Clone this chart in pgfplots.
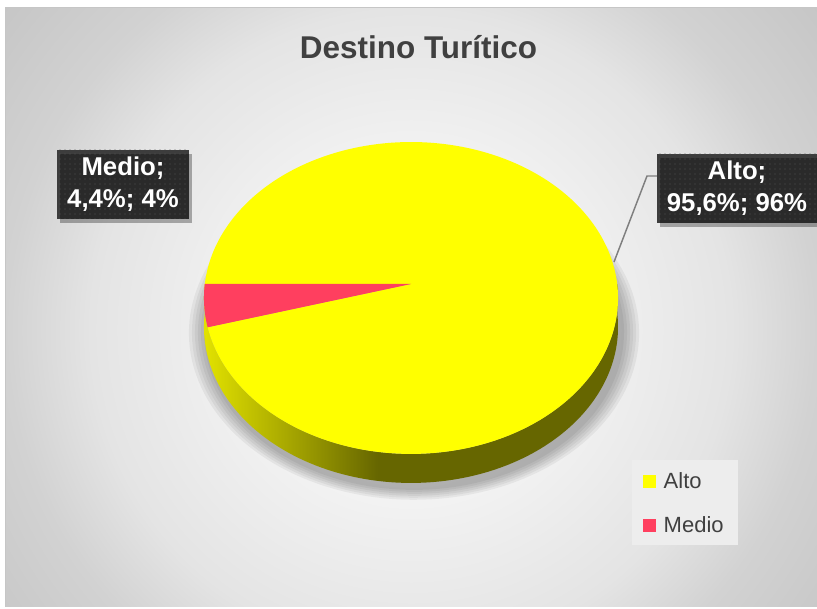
\documentclass[border=0pt]{standalone}
\usepackage{fontspec}
\setmainfont{Liberation Sans}
\usepackage{pgfplots}
\pgfplotsset{compat=1.18}
\usepackage{pgfplotstable}
\usetikzlibrary{patterns.meta,shadows}

\definecolor{txt}{HTML}{404040}
\definecolor{pieY}{HTML}{FFFF00}
\definecolor{pieR}{HTML}{FF3F5F}
\definecolor{lblbg}{HTML}{3D3D3D}
\definecolor{lbldot}{HTML}{545454}
\definecolor{legbg}{HTML}{EDEDED}
\definecolor{lead}{HTML}{7F7F7F}
\definecolor{s0}{HTML}{E2E200}
\definecolor{s1}{HTML}{A8A800}
\definecolor{s2}{HTML}{666600}
\definecolor{b1}{HTML}{F7F7F7}
\definecolor{b2}{HTML}{E4E4E4}
\definecolor{b3}{HTML}{D2D2D2}
\definecolor{b4}{HTML}{C6C6C6}

\pgfdeclareradialshading{bgsh}{\pgfpointorigin}{color(0bp)=(white); color(5.8bp)=(b1); color(15.4bp)=(b2); color(19.5bp)=(b3); color(25bp)=(b4); color(50bp)=(b4)}
\pgfdeclarehorizontalshading{sidesh}{100bp}{color(0bp)=(s0); color(25bp)=(s0); color(35bp)=(s1); color(46bp)=(s2); color(100bp)=(s2)}

\pgfplotstableread{
label value
Alto 95.6
Medio 4.4
}\piedata
\pgfplotstablegetelem{0}{value}\of\piedata \let\vAlto\pgfplotsretval
\pgfplotstablegetelem{1}{value}\of\piedata \let\vMedio\pgfplotsretval
\pgfmathsetmacro\aS{180}
\pgfmathsetmacro\aM{180+3.6*\vMedio}
\pgfmathsetmacro\aE{\aM+3.6*\vAlto}

\begin{document}%
\begin{tikzpicture}
% background
\begin{scope}
\clip (3.75pt,1.5pt) rectangle (612.75pt,450.75pt);
\shade[shading=bgsh] (308.25pt,209.25pt) circle (390pt);
\end{scope}
\draw[color=b4, line width=0.75pt] (3.75pt,1.5pt) -- (3.75pt,450.75pt) -- (612.75pt,450.75pt);
\begin{axis}[at={(0,0)}, anchor=south west, scale only axis,
  x=0.75pt, y=0.75pt, xmin=0, xmax=817, ymin=-609, ymax=0,
  hide axis, clip=false,
  legend style={at={(axis cs:643,-470)}, anchor=north west, draw=none, fill=none,
    font=\fontsize{16.5}{19}\selectfont, text=txt, row sep=15.2pt, column sep=3.6pt, inner sep=0pt},
  legend cell align=left,
  legend image code/.code={\fill[#1, draw=none] (0pt,-4.9pt) rectangle (9.75pt,4.9pt);},
]
% soft shadow under the pie
\pgfplotsinvokeforeach{3,6,9,12,15,18}{
\addplot[forget plot, draw=none, fill=black, opacity=0.05, domain=0:360, samples=160]
  ({414+(206.2+#1)*cos(x)/(1+0.0897*sin(x))},{-318+(154.7+0.6*#1)*sin(x)/(1+0.0897*sin(x))});
}
% side of the pie
\addplot[forget plot, draw=none, shade, shading=sidesh, domain=180:540, samples=361, variable=\t]
  ({411+206.2*cos(\t)/(1-0.0897*abs(sin(\t)))},
   {-284-154.7*abs(sin(\t))/(1-0.0897*abs(sin(\t)))-29*(\t>360)}) -- cycle;
% top: Alto
\addplot[forget plot, draw=none, fill=pieY, domain=\aM:\aE, samples=400, variable=\t]
  ({411+206.2*cos(\t)/(1+0.0897*sin(\t))},{-284+154.7*sin(\t)/(1+0.0897*sin(\t))}) -- (axis cs:411,-284) -- cycle;
% top: Medio
\addplot[forget plot, draw=none, fill=pieR, domain=\aS:\aM, samples=30, variable=\t]
  ({411+206.2*cos(\t)/(1+0.0897*sin(\t))},{-284+154.7*sin(\t)/(1+0.0897*sin(\t))}) -- (axis cs:411,-284) -- cycle;
% leader line
\addplot[forget plot, color=lead, line width=1.1pt] coordinates {(657,-176) (647,-176) (614,-262)};
% legend
\fill[legbg] (axis cs:632,-460) rectangle (axis cs:738,-545);
\addlegendimage{fill=pieY}
\addlegendentry{Alto}
\addlegendimage{fill=pieR}
\addlegendentry{Medio}
% title
\node[anchor=base, font=\bfseries\fontsize{23.6}{28}\selectfont, text=txt] at (axis cs:418.5,-59) {Destino Turítico};
% data labels
\node[preaction={fill=lblbg}, pattern={Dots[distance=3.75pt, radius=0.45pt]}, pattern color=lbldot,
  drop shadow={shadow xshift=2.5pt, shadow yshift=-3pt, fill=black, opacity=0.3},
  minimum width=99pt, minimum height=51.75pt, inner sep=0pt, align=center, text=white,
  font=\bfseries\fontsize{19.3}{24}\selectfont] at (axis cs:123,-184.5) {Medio;\\4,4\%; 4\%};
\node[preaction={fill=lblbg}, pattern={Dots[distance=3.75pt, radius=0.45pt]}, pattern color=lbldot,
  drop shadow={shadow xshift=2.5pt, shadow yshift=-3pt, fill=black, opacity=0.3},
  minimum width=120pt, minimum height=51.75pt, inner sep=0pt, align=center, text=white,
  font=\bfseries\fontsize{19.3}{24}\selectfont] at (axis cs:737,-188.5) {Alto;\\95,6\%; 96\%};
\end{axis}
\pgfresetboundingbox
\path[use as bounding box] (0,0) rectangle (612.75pt,456.75pt);
\end{tikzpicture}%
\end{document}
